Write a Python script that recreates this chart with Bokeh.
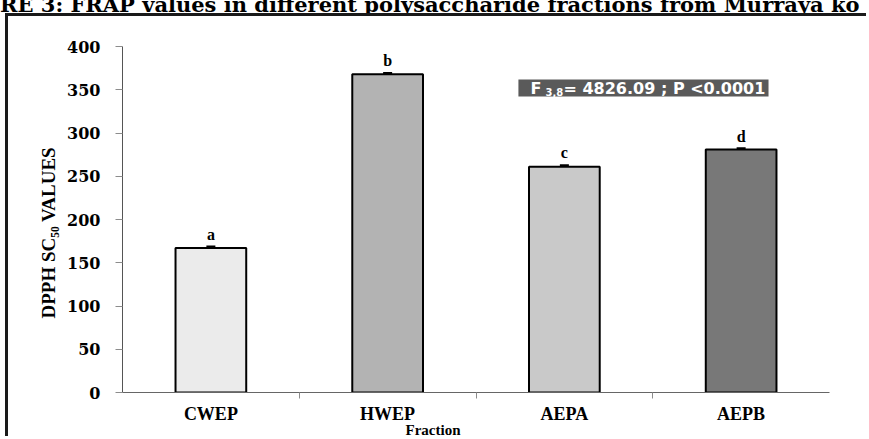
from bokeh.plotting import figure
from bokeh.layouts import column
from bokeh.models import (FactorRange, Range1d, LinearAxis, FixedTicker, Whisker,
                          ColumnDataSource, Label, BoxAnnotation, TeeHead, Div, Title)
from bokeh.embed import file_html
from bokeh.resources import INLINE
from bokeh.core.properties import value

# ---- data ----
categories = ["CWEP", "HWEP", "AEPA", "AEPB"]
values = [167, 368, 261, 281]
errors = [1.5, 1.0, 1.5, 1.0]
letters = ["a", "b", "c", "d"]
bar_colors = ["#ebebeb", "#b3b3b3", "#c9c9c9", "#787878"]
y_ticks = [0, 50, 100, 150, 200, 250, 300, 350, 400]
stat_main = "F"
stat_sub = "3,8"
stat_rest = "= 4826.09 ; P <0.0001"
title_text = "RE 3: FRAP values in different polysaccharide fractions from Murraya ko"
y_label = "DPPH SC\u2085\u2080 VALUES"
x_label = "Fraction"

src = ColumnDataSource(dict(
    cat=categories,
    val=values,
    lo=[v - e for v, e in zip(values, errors)],
    hi=[v + e for v, e in zip(values, errors)],
    lab=letters,
    col=bar_colors,
))

# cropped caption of the original figure (only its lower part is visible)
caption = Div(
    text=('<div style="margin-top:-7px; white-space:nowrap; font-family:\'DejaVu Serif\';'
          ' font-weight:bold; font-size:21px; line-height:18px; color:#000;">'
          + title_text + '</div>'),
    width=869, height=13, margin=0,
    styles={"overflow": "hidden"},
)

p = figure(width=861, height=423,
           x_range=FactorRange(*categories), y_range=Range1d(0, 400),
           x_axis_type=None, y_axis_type=None,
           output_backend="svg", toolbar_location=None,
           min_border_left=114, min_border_right=40,
           min_border_top=30, min_border_bottom=47)
p.title.visible = False
p.outline_line_color = None
p.background_fill_color = "white"
p.border_fill_color = "white"
p.styles = {"border-left": "3px solid #1a1a1a", "border-top": "3px solid #1a1a1a",
            "margin-left": "5px"}

# y axis
yaxis = LinearAxis(ticker=FixedTicker(ticks=y_ticks),
                   axis_line_color="#555555", axis_line_width=1,
                   major_tick_line_color="#8c8c8c", major_tick_in=0, major_tick_out=7,
                   minor_tick_line_color=None,
                   major_label_standoff=15,
                   major_label_text_font="DejaVu Serif",
                   major_label_text_font_style="bold",
                   major_label_text_font_size="16px",
                   major_label_text_color="black")
p.add_layout(yaxis, "left")
p.add_layout(Title(text=y_label, align="left", offset=74, standoff=12,
                   text_font="Liberation Serif", text_font_style="bold",
                   text_font_size="19px", text_color="black"), "left")

# x axis: labels at category centres, small ticks between categories
n = len(categories)
xaxis = LinearAxis(ticker=FixedTicker(ticks=[i + 0.5 for i in range(n)],
                                      minor_ticks=[i for i in range(1, n)]),
                   major_label_overrides={i + 0.5: c for i, c in enumerate(categories)},
                   axis_line_color="#666666", axis_line_width=1,
                   major_tick_line_color=None, major_tick_in=0, major_tick_out=0,
                   minor_tick_line_color="#8c8c8c", minor_tick_in=0, minor_tick_out=6,
                   major_label_standoff=5,
                   major_label_text_font="Liberation Serif",
                   major_label_text_font_style="bold",
                   major_label_text_font_size="18px",
                   major_label_text_color="black")
p.add_layout(xaxis, "below")
p.add_layout(Title(text=x_label, align="left", offset=283, standoff=-23,
                   text_font="Liberation Serif", text_font_style="bold",
                   text_font_size="15px", text_color="black"), "below")

# bars
p.vbar(x="cat", top="val", bottom=0, width=0.4, source=src,
       fill_color="col", line_color="black", line_width=2)

# significance letters
p.text(x="cat", y="hi", text="lab", source=src,
       text_font=value("Liberation Serif"), text_font_style="bold",
       text_font_size="16px", text_align="center", text_baseline="bottom",
       y_offset=-4, text_color="black")

# statistics box
p.add_layout(BoxAnnotation(left=2.240, right=3.655, bottom=342.2, top=361.8,
                           fill_color="#5a5a5a", fill_alpha=1.0, line_color=None))
p.add_layout(Label(x=2.308, y=352, text=stat_main, text_color="white",
                   text_font="DejaVu Sans", text_font_style="bold",
                   text_font_size="16px", text_baseline="middle", text_align="left"))
p.add_layout(Label(x=2.393, y=347, text=stat_sub, text_color="white",
                   text_font="DejaVu Sans", text_font_style="bold",
                   text_font_size="10px", text_baseline="middle", text_align="left"))
p.add_layout(Label(x=2.495, y=352, text=stat_rest, text_color="white",
                   text_font="DejaVu Sans", text_font_style="bold",
                   text_font_size="16px", text_baseline="middle", text_align="left"))

# error bars
p.add_layout(Whisker(base="cat", lower="lo", upper="hi", source=src,
                     line_color="black", line_width=2.5,
                     upper_head=TeeHead(size=9, line_color="black", line_width=2.5),
                     lower_head=TeeHead(size=9, line_color="black", line_width=2.5)))

layout = column(caption, p, spacing=0)

open("out.html", "w").write(file_html(layout, INLINE))
